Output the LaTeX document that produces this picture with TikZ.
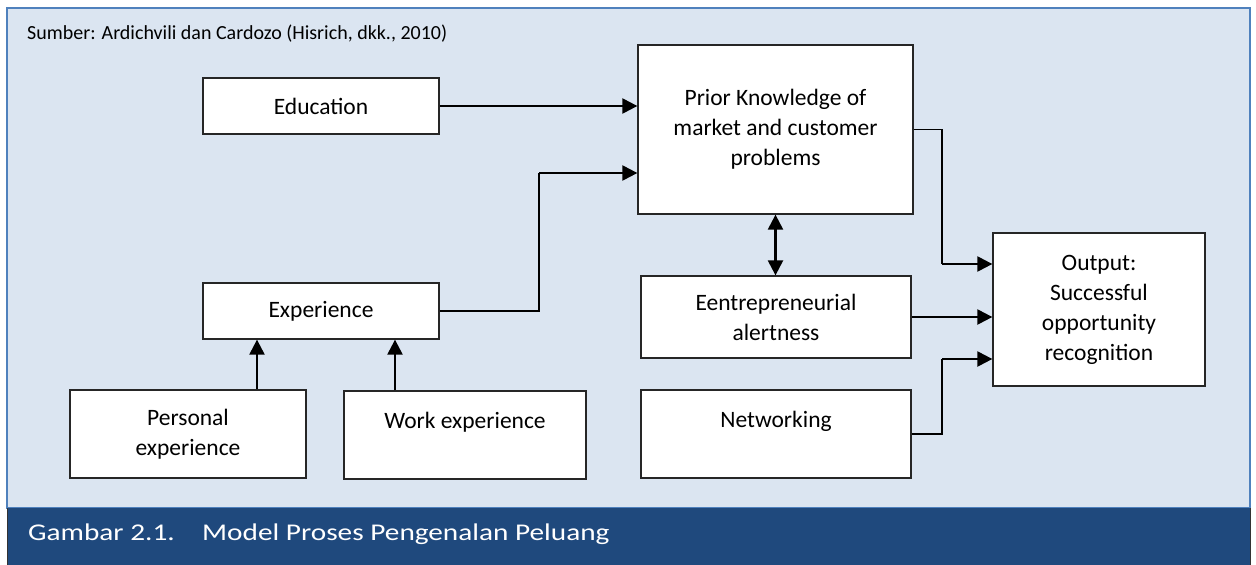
\documentclass[tikz,border=0pt]{standalone}
\usepackage{fontspec}
\setmainfont{Carlito}
\newfontfamily\capfont[FakeStretch=1.22]{Carlito}
\usetikzlibrary{arrows.meta}
\definecolor{panelfill}{HTML}{DBE5F1}
\definecolor{panelline}{HTML}{4F81BD}
\definecolor{captionbar}{HTML}{1F497D}

\begin{document}
\begin{tikzpicture}[x=1pt, y=-1pt,
  box/.style={draw=black!85, line width=1.3pt, fill=white, align=center, inner sep=0pt,
    font=\fontsize{23.5}{30}\selectfont},
  captext/.style={anchor=base west, inner sep=0pt, text=white, font=\capfont\fontsize{24}{28}\selectfont},
  conn/.style={line width=1.3pt},
  arr/.style={line width=2.3pt, -{Triangle[length=15pt,width=15pt]}},
  darr/.style={line width=2.3pt, {Triangle[length=15pt,width=15pt]}-{Triangle[length=15pt,width=15pt]}}]
  \useasboundingbox (0,0) rectangle (1256,565);
  % panel and caption bar
  \draw[fill=panelfill, draw=panelline, line width=1.6pt] (7,8) rectangle (1250,508);
  \fill[captionbar] (7,508) rectangle (1250,565);
  \draw[black!80, line width=1pt] (7,508) -- (7,565) (1250,508) -- (1250,565);
  \node[anchor=base west, inner sep=0pt, font=\fontsize{20}{24}\selectfont] (src) at (27,39)
    {Sumber: Ardichvili dan Cardozo (Hisrich, dkk., 2010)};
  \node[captext] (capnum) at (28,540) {Gambar 2.1.};
  \node[captext] (captitle) at (202,540) {Model Proses Pengenalan Peluang};
  % boxes
  \node[box, minimum width=236pt, minimum height=56pt] (edu) at (321,106) {Education};
  \node[box, minimum width=275pt, minimum height=169pt] (pk) at (775.5,129.5) {Prior Knowledge of\\market and customer\\problems};
  \node[box, minimum width=236pt, minimum height=56pt] (exp) at (321,311) {Experience};
  \node[box, minimum width=236pt, minimum height=88pt] (pers) at (188,434) {Personal\\experience};
  \node[box, minimum width=242pt, minimum height=88pt] (work) at (465,435) {Work experience\\~};
  \node[box, minimum width=270pt, minimum height=82pt] (alert) at (776,317) {Eentrepreneurial\\alertness};
  \node[box, minimum width=270pt, minimum height=88pt] (net) at (776,434) {Networking\\~};
  \node[box, minimum width=212pt, minimum height=153pt] (out) at (1099,309.5) {Output:\\Successful\\opportunity\\recognition};
  % bends of the elbow connectors
  \coordinate (b1) at (539,173);
  \coordinate (b2) at (942,264);
  \coordinate (b3) at (942,359);
  % into prior knowledge
  \draw[arr] (edu.east) -- (edu.east -| pk.west);
  \draw[conn] (exp.east) -| (b1);
  \draw[arr] (b1) -- (b1 -| pk.west);
  % into experience
  \draw[arr] ([xshift=69pt]pers.north) -- ([xshift=69pt]pers.north |- exp.south);
  \draw[arr] ([xshift=-70pt]work.north) -- ([xshift=-70pt]work.north |- exp.south);
  % prior knowledge and alertness
  \draw[darr] (pk.south) -- (pk.south |- alert.north);
  % into output
  \draw[conn] (pk.east) -| (b2);
  \draw[arr] (b2) -- (b2 -| out.west);
  \draw[arr] (alert.east) -- (alert.east -| out.west);
  \draw[conn] (net.east) -| (b3);
  \draw[arr] (b3) -- (b3 -| out.west);
\end{tikzpicture}
\end{document}
